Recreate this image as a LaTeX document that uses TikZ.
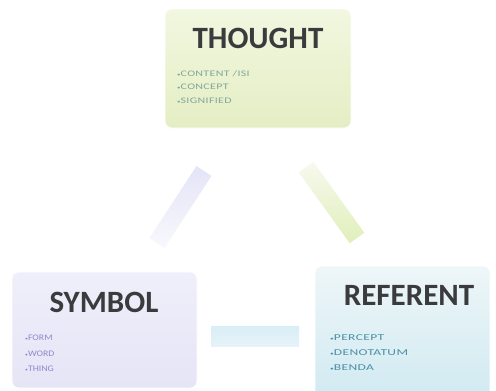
\documentclass[tikz,border=0pt]{standalone}
\usepackage{fontspec}
\setmainfont{Carlito}
\usetikzlibrary{calc}

\definecolor{titlegray}{HTML}{3A3B3D}
\definecolor{thoughttxt}{HTML}{7FA89A}
\definecolor{symboltxt}{HTML}{8C88CC}
\definecolor{referenttxt}{HTML}{4B8FA6}

\tikzset{
  card/.style={rounded corners=7pt, draw=white, line width=0.6pt},
  title/.style={font=\bfseries\fontsize{31}{31}\selectfont, text=titlegray, inner sep=0pt},
  items/.style={align=left, anchor=north west, inner sep=0pt},
}

% a soft wide band between two named points
\newcommand{\softband}[5]{% from, to, half width, color at from, color at to
  \shade[left color=#4, right color=#5, shading angle=0]
    let \p1=(#1), \p2=(#2), \n1={atan2(\y2-\y1,\x2-\x1)} in
    [rotate around={\n1:(#1)}]
    ($(#1)+(0,-#3)$) rectangle ($(#1)+({veclen(\x2-\x1,\y2-\y1)},#3)$);
}
\newcommand{\dotitem}{{\tiny•}}

\begin{document}
\begin{tikzpicture}[x=1pt,y=-1pt]
\useasboundingbox (0,0) rectangle (496,391);
\clip (0,0) rectangle (496,391);

% boxes
\shade[card, top color={rgb,255:red,242;green,247;blue,224}, bottom color={rgb,255:red,228;green,238;blue,196}]
  (165,9) rectangle (351,128);
\shade[card, top color={rgb,255:red,239;green,238;blue,250}, bottom color={rgb,255:red,230;green,229;blue,246}]
  (12,272) rectangle (197,388);
\shade[card, top color={rgb,255:red,238;green,246;blue,248}, bottom color={rgb,255:red,208;green,234;blue,241}]
  (315,266) rectangle (490,400);

% connector end points
\coordinate (l1) at (157,243);
\coordinate (l2) at (204,171);
\coordinate (r1) at (306,167);
\coordinate (r2) at (357,238);
\coordinate (b1) at (211,336);
\coordinate (b2) at (299,336);

\softband{l1}{l2}{9}{{rgb,255:red,228;green,228;blue,247}}{{rgb,255:red,248;green,248;blue,253}}
\softband{r1}{r2}{9}{{rgb,255:red,247;green,249;blue,238}}{{rgb,255:red,224;green,239;blue,186}}
\softband{b1}{b2}{10}{{rgb,255:red,216;green,238;blue,245}}{{rgb,255:red,230;green,243;blue,248}}

% titles
\node[title] (thought) at (258,38) {THOUGHT};
\node[title] (symbol) at (104,302) {SYMBOL};
\node[title] (referent) at (409,295) {REFERENT};

% item lists
\node[items, text=thoughttxt,
      font=\fontsize{8.5}{13.5}\selectfont\addfontfeatures{FakeStretch=1.4,LetterSpace=4}]
  (thoughtitems) at (177,70)
  {\dotitem CONTENT /ISI\\\dotitem CONCEPT\\\dotitem SIGNIFIED};
\node[items, text=symboltxt,
      font=\fontsize{8.5}{15.5}\selectfont\addfontfeatures{FakeStretch=1.15}]
  (symbolitems) at (25,335)
  {\dotitem FORM\\\dotitem WORD\\\dotitem THING};
\node[items, text=referenttxt,
      font=\fontsize{9}{15}\selectfont\addfontfeatures{FakeStretch=1.5,LetterSpace=4}]
  (referentitems) at (330,334)
  {\dotitem PERCEPT\\\dotitem DENOTATUM\\\dotitem BENDA};
\end{tikzpicture}
\end{document}
